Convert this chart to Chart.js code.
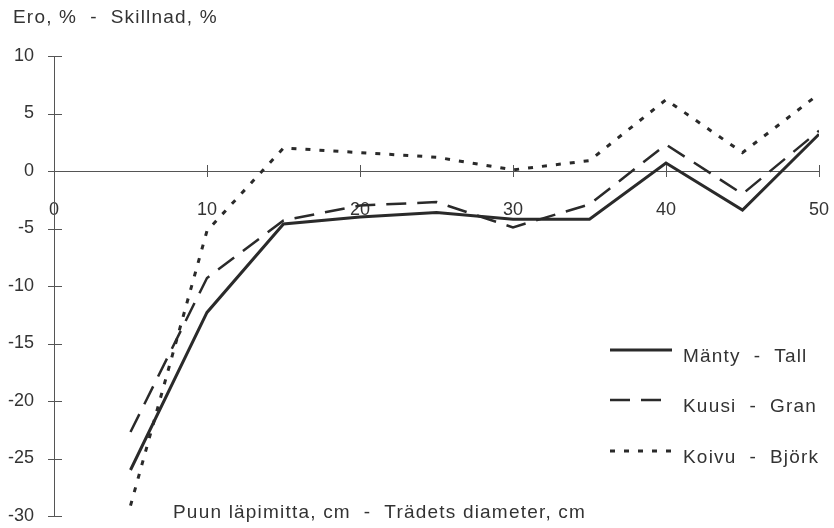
<!DOCTYPE html>
<html>
<head>
<meta charset="utf-8">
<script src="https://cdn.jsdelivr.net/npm/chart.js@4"></script>
<style>
html, body { margin: 0; padding: 0; background: #fff; }
</style>
</head>
<body>
<canvas id="chart" width="834" height="528"></canvas>
<script>
// tree diameter, cm
const diameters = [5, 10, 15, 20, 25, 30, 35, 40, 45, 50];
// difference, %
const manty = [-26.0, -12.3, -4.6, -4.0, -3.6, -4.2, -4.2, 0.7, -3.4, 3.2];
const kuusi = [-22.7, -9.3, -4.3, -3.0, -2.7, -4.9, -2.9, 2.3, -2.0, 3.5];
const koivu = [-29.1, -5.2, 2.0, 1.6, 1.2, 0.1, 0.9, 6.2, 1.6, 6.7];
const seriesLabels = ['Mänty  -  Tall', 'Kuusi  -  Gran', 'Koivu  -  Björk'];
const xTicks = [0, 10, 20, 30, 40, 50];
const yTicks = [10, 5, 0, -5, -10, -15, -20, -25, -30];
const yTitle = 'Ero, %  -  Skillnad, %';
const xTitle = 'Puun läpimitta, cm  -  Trädets diameter, cm';

const INK = '#2a2a2a';
const FONT = '"Liberation Sans", Arial, Helvetica, sans-serif';

function points(values) {
    return diameters.map((d, i) => ({ x: d, y: values[i] }));
}

// tick marks crossing the axes, the two titles and the legend box
const decorations = {
    id: 'decorations',
    afterDraw(chart) {
        const { ctx, scales: { x, y } } = chart;
        ctx.save();
        ctx.strokeStyle = '#555';
        ctx.lineWidth = 1;
        const y0 = y.getPixelForValue(0);
        ctx.beginPath();
        xTicks.forEach(v => {
            if (v === 0) return;
            const px = Math.round(x.getPixelForValue(v)) + 0.5;
            ctx.moveTo(px, y0 - 6);
            ctx.lineTo(px, y0 + 6);
        });
        yTicks.forEach(v => {
            const py = Math.round(y.getPixelForValue(v)) + 0.5;
            ctx.moveTo(x.left - 6, py);
            ctx.lineTo(x.left + 8, py);
        });
        ctx.stroke();

        ctx.fillStyle = '#333';
        ctx.font = '19px ' + FONT;
        ctx.letterSpacing = '1.2px';
        ctx.textBaseline = 'alphabetic';
        ctx.textAlign = 'left';
        ctx.fillText(yTitle, 13, 23);
        ctx.fillText(xTitle, 173, 518);

        // legend
        const rows = [350, 400, 451];
        chart.data.datasets.forEach((ds, i) => {
            ctx.strokeStyle = ds.borderColor;
            ctx.lineWidth = ds.borderWidth;
            ctx.setLineDash(ds.borderDash || []);
            ctx.beginPath();
            ctx.moveTo(610, rows[i]);
            ctx.lineTo(672, rows[i]);
            ctx.stroke();
            ctx.setLineDash([]);
            ctx.fillText(ds.label, 683, rows[i] + 12);
        });
        ctx.restore();
    }
};

new Chart(document.getElementById('chart'), {
    type: 'line',
    data: {
        datasets: [
            {
                label: seriesLabels[0],
                data: points(manty),
                borderColor: INK,
                borderWidth: 3,
            },
            {
                label: seriesLabels[1],
                data: points(kuusi),
                borderColor: INK,
                borderWidth: 2.5,
                borderDash: [20, 11],
            },
            {
                label: seriesLabels[2],
                data: points(koivu),
                borderColor: INK,
                borderWidth: 3,
                borderDash: [5, 9],
            },
        ]
    },
    options: {
        responsive: false,
        animation: false,
        elements: {
            point: { radius: 0 },
            line: { tension: 0, borderCapStyle: 'butt', borderJoinStyle: 'miter' }
        },
        layout: {
            padding: { left: 0, right: 15, top: 56, bottom: 12 }
        },
        scales: {
            x: {
                type: 'linear',
                position: { y: 0 },
                min: 0,
                max: 50,
                afterBuildTicks: (scale) => {
                    scale.ticks = xTicks.map(v => ({ value: v }));
                },
                afterFit: (scale) => {
                    scale.paddingLeft = 0;
                    scale.paddingRight = 0;
                },
                grid: { display: true, drawOnChartArea: false, drawTicks: false },
                border: { display: true, color: '#555', width: 1 },
                ticks: {
                    color: '#333',
                    padding: 28,
                    maxRotation: 0,
                    autoSkip: false,
                    font: { family: FONT, size: 18 },
                    callback: (v) => String(v)
                }
            },
            y: {
                type: 'linear',
                min: -30,
                max: 10,
                afterBuildTicks: (scale) => {
                    scale.ticks = yTicks.map(v => ({ value: v }));
                },
                afterFit: (scale) => {
                    scale.width = 54;
                    scale.paddingTop = 0;
                    scale.paddingBottom = 0;
                },
                grid: { display: true, drawOnChartArea: false, drawTicks: false },
                border: { display: true, color: '#555', width: 1 },
                ticks: {
                    color: '#333',
                    padding: 20,
                    font: { family: FONT, size: 18 },
                    callback: (v) => String(v)
                }
            }
        },
        plugins: {
            legend: { display: false },
            tooltip: { enabled: false },
            title: { display: false }
        }
    },
    plugins: [decorations]
});
</script>
</body>
</html>
